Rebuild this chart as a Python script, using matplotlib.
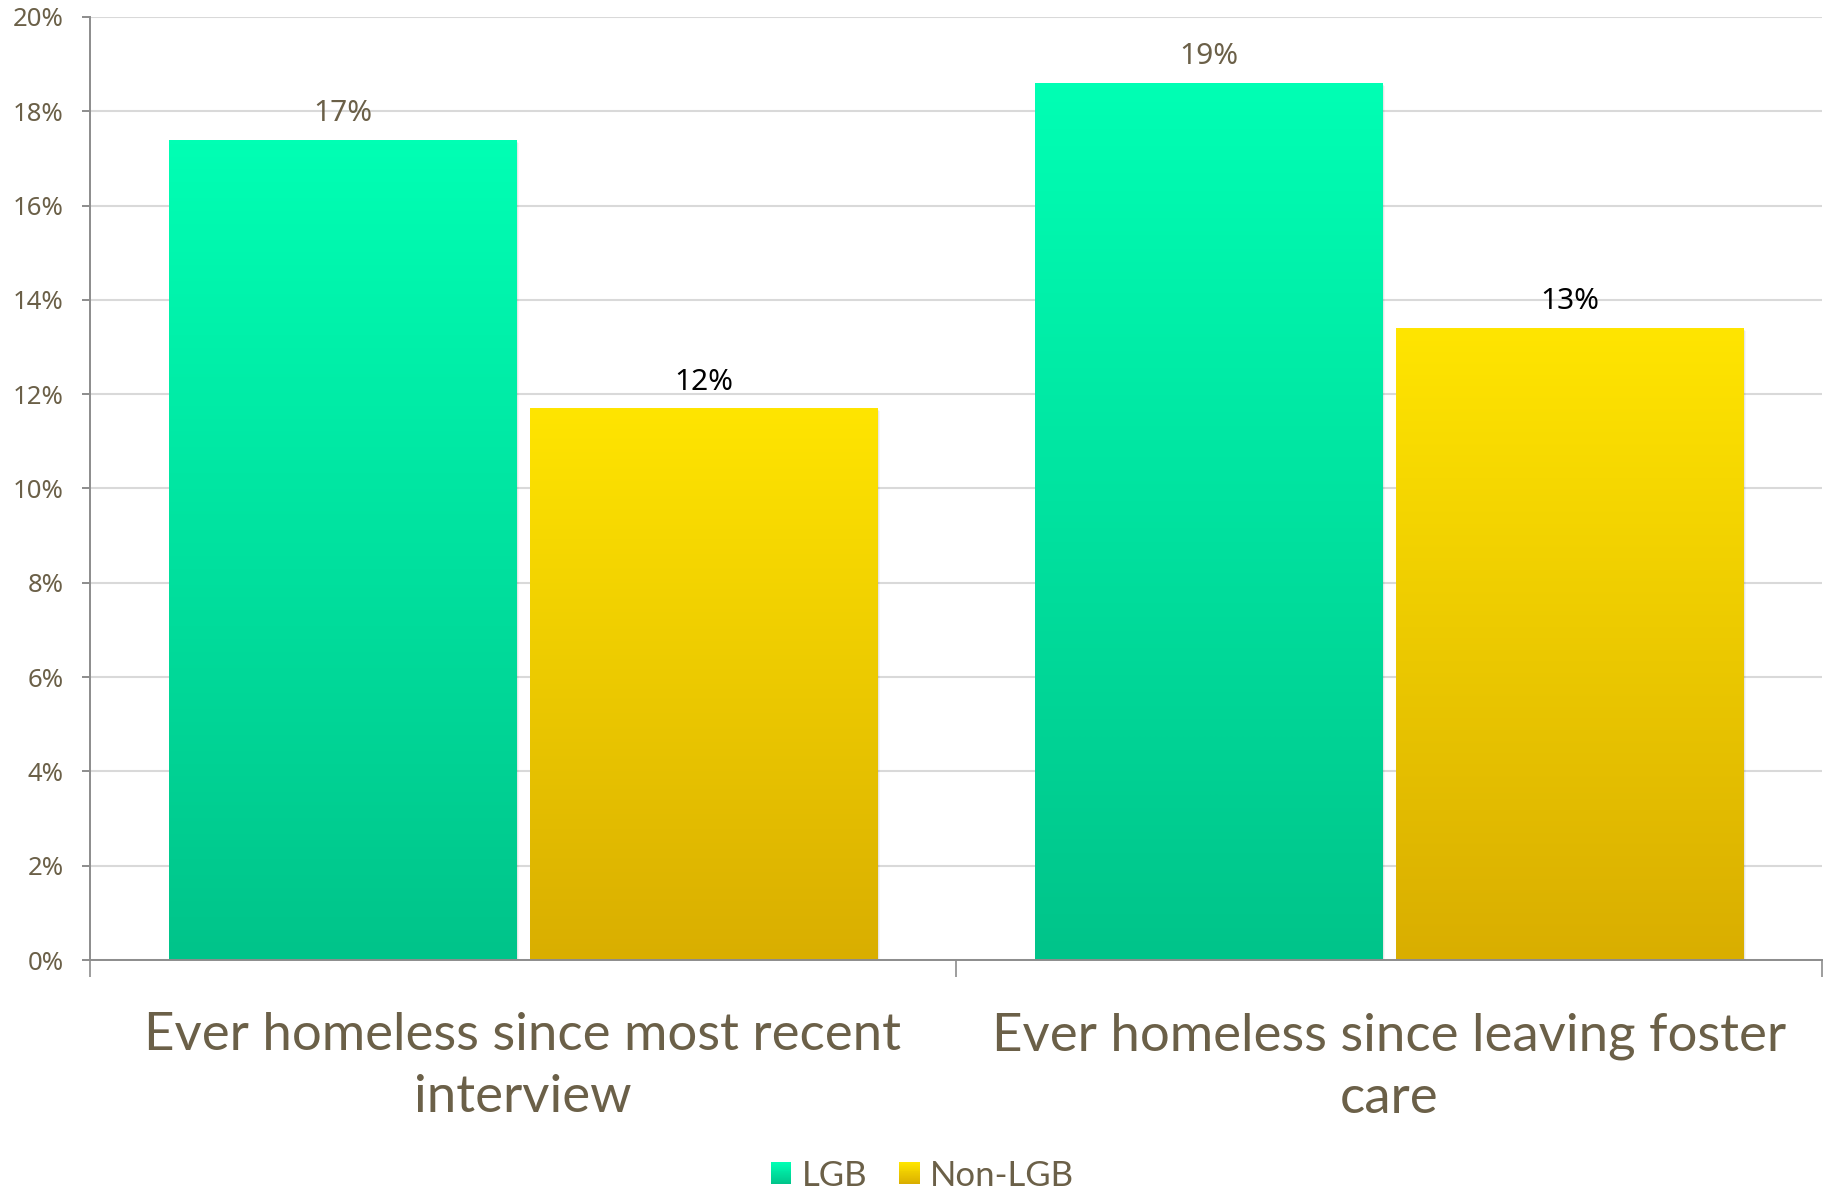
import numpy as np
import matplotlib
matplotlib.use("Agg")
import matplotlib.pyplot as plt
from matplotlib.patches import Rectangle
from matplotlib.colors import LinearSegmentedColormap, to_rgb
from matplotlib.legend_handler import HandlerBase
from matplotlib.ticker import FuncFormatter
from matplotlib import transforms

# --- data -------------------------------------------------------------
categories = ["Ever homeless since most recent\ninterview",
              "Ever homeless since leaving foster\ncare"]
series_names = ["LGB", "Non-LGB"]
lgb_values = [17.4, 18.6]
non_lgb_values = [11.7, 13.4]
y_ticks = [0, 2, 4, 6, 8, 10, 12, 14, 16, 18, 20]

# --- style ------------------------------------------------------------
TEXT = "#6B6048"
AXIS = "#8C8C8C"
GRID = "#D9D9D9"
GREEN = ("#00C48A", "#00FFB4")    # bottom, top
YELLOW = ("#D9AE00", "#FFE500")
LABEL_COLORS = [TEXT, "#000000"]

W, H = 1827, 1188
fig = plt.figure(figsize=(W / 100, H / 100), dpi=100)
ax = fig.add_axes([90 / W, 1 - 960 / H, (1822 - 90) / W, (960 - 17) / H])

x = np.arange(len(categories))
bar_w = 0.401
offset = 0.2085


def gradient_bar(ax, xc, h, colors):
    left = xc - bar_w / 2
    # soft drop shadow on the right / bottom
    for i, a in enumerate([0.09, 0.06, 0.035]):
        shift = transforms.ScaledTranslation((i + 1) / 100, -(i + 1) / 100,
                                             fig.dpi_scale_trans)
        ax.add_patch(Rectangle((left, 0), bar_w, h, facecolor="black",
                               edgecolor="none", alpha=a, zorder=1.5,
                               transform=ax.transData + shift))
    cmap = LinearSegmentedColormap.from_list("g", [colors[0], colors[1]])
    grad = np.linspace(0, 1, 256).reshape(-1, 1)
    im = ax.imshow(grad, cmap=cmap, origin="lower", aspect="auto",
                   extent=[left, left + bar_w, 0, h], zorder=2,
                   interpolation="bilinear")
    clip = Rectangle((left, 0), bar_w, h, facecolor="none", edgecolor="none",
                     transform=ax.transData)
    ax.add_patch(clip)
    im.set_clip_path(clip)


for vals, colors, sign, lc in [(lgb_values, GREEN, -1, LABEL_COLORS[0]),
                               (non_lgb_values, YELLOW, 1, LABEL_COLORS[1])]:
    for xi, v in zip(x, vals):
        xc = xi + sign * offset
        gradient_bar(ax, xc, v, colors)
        ax.annotate(f"{v:.0f}%", (xc, v), xytext=(0, 13.5),
                    textcoords="offset points", ha="center", va="baseline",
                    fontsize=21.5, family="Noto Sans", color=lc, zorder=5)

ax.set_xlim(-0.5, len(categories) - 0.5)
ax.set_ylim(0, 20)

# y axis
ax.set_yticks(y_ticks)
ax.yaxis.set_major_formatter(FuncFormatter(lambda v, p: f"{v:.0f}%"))
ax.tick_params(axis="y", length=5.8, width=1.4, color=AXIS, pad=13,
               labelsize=18.5, labelcolor=TEXT)
for t in ax.get_yticklabels():
    t.set_family("Noto Sans")
ax.yaxis.grid(True, color=GRID, linewidth=1.5)
ax.set_axisbelow(True)

# x axis: boundary ticks + centred category labels
ax.set_xticks(np.arange(-0.5, len(categories), 1.0))
ax.set_xticklabels([])
ax.tick_params(axis="x", which="major", length=12.2, width=1.2, color=AXIS)
ax.set_xticks(x, minor=True)
ax.set_xticklabels(categories, minor=True, fontsize=38, family="Lato",
                   color=TEXT, linespacing=1.4)
ax.tick_params(axis="x", which="minor", length=0, pad=37.5)

for s in ["top", "right"]:
    ax.spines[s].set_visible(False)
for s in ["left", "bottom"]:
    ax.spines[s].set_color(AXIS)
    ax.spines[s].set_linewidth(1.4)
    ax.spines[s].set_zorder(3)


# legend with gradient swatches
class GradientHandler(HandlerBase):
    def __init__(self, colors):
        super().__init__()
        self.colors = colors

    def create_artists(self, legend, orig_handle, xdescent, ydescent,
                       width, height, fontsize, trans):
        c0 = np.array(to_rgb(self.colors[0]))
        c1 = np.array(to_rgb(self.colors[1]))
        n = 24
        arts = []
        for i in range(n):
            f = i / (n - 1)
            arts.append(Rectangle((-xdescent, -ydescent + height * i / n),
                                  width, height / n + 0.3,
                                  facecolor=c0 + (c1 - c0) * f,
                                  edgecolor="none", transform=trans))
        return arts


h1 = Rectangle((0, 0), 1, 1)
h2 = Rectangle((0, 0), 1, 1)
leg = fig.legend([h1, h2], series_names, loc="center",
                 bbox_to_anchor=(0.5048, 0.0105), ncol=2, frameon=False,
                 handler_map={h1: GradientHandler(GREEN),
                              h2: GradientHandler(YELLOW)},
                 prop={"family": "Lato", "size": 25},
                 handlelength=0.6, handleheight=0.6, handletextpad=0.29,
                 columnspacing=0.92, borderpad=0, borderaxespad=0)
for t in leg.get_texts():
    t.set_color(TEXT)

fig.savefig("out.png", dpi=100)
